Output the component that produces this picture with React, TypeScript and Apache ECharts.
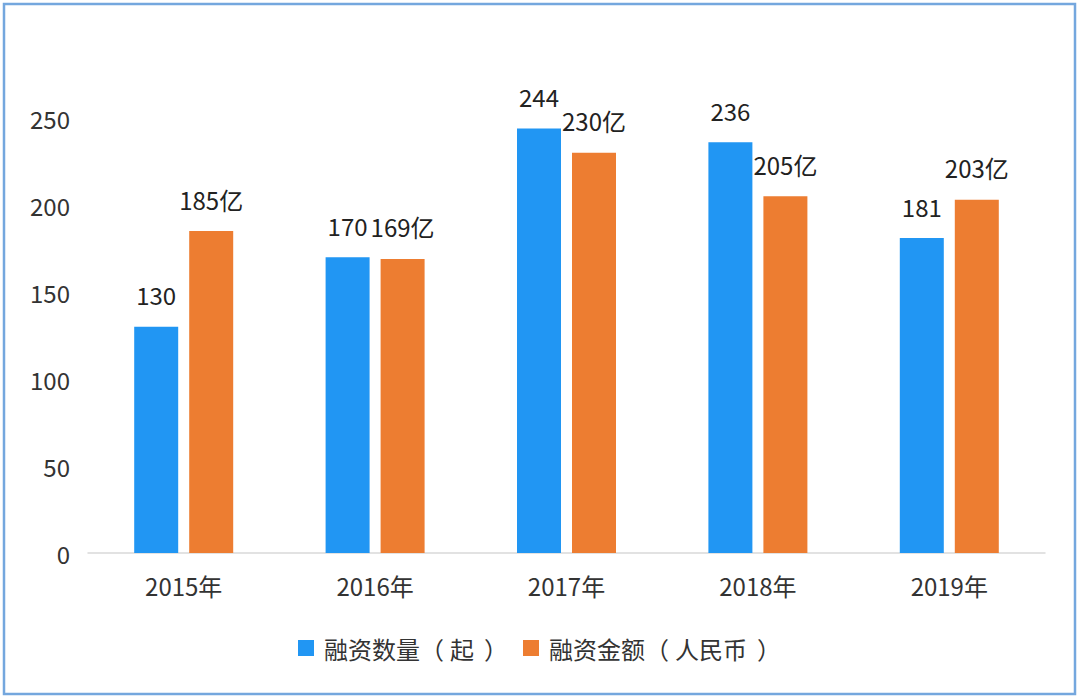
import React, { useEffect, useRef } from "react";
import * as echarts from "echarts";

const categories = ["2015年", "2016年", "2017年", "2018年", "2019年"];
const countValues = [130, 170, 244, 236, 181];
const amountValues = [185, 169, 230, 205, 203];
const seriesNames = ["融资数量（起）", "融资金额（人民币）"];

const FONT = "'Noto Sans CJK SC', 'Noto Sans', sans-serif";

const baseText = { fontSize: 24, color: "#333", fontFamily: FONT };

function legendFormatter(name: string): string {
  const m = name.match(/^(.*)（(.*)）$/);
  if (!m) return `{t|${name}}`;
  return `{t|${m[1]}}{o|（}{t|${m[2]}}{c|）}`;
}

export default function App() {
  const ref = useRef<HTMLDivElement>(null);
  useEffect(() => {
    if (!ref.current) return;
    const chart = echarts.init(ref.current, null, { renderer: "svg" });
    chart.setOption({
      animation: false,
      backgroundColor: "#ffffff",
      textStyle: { fontFamily: FONT },
      graphic: [
        {
          type: "rect",
          shape: { x: 4, y: 4, width: 1071, height: 690 },
          style: { fill: "none", stroke: "#74A7DE", lineWidth: 2.5 },
          silent: true,
        },
      ],
      grid: { left: 88, right: 35, top: 118, bottom: 145 },
      legend: {
        bottom: 38,
        left: 298,
        padding: 0,
        itemWidth: 16,
        itemHeight: 16,
        itemGap: 15,
        icon: "rect",
        formatter: legendFormatter,
        textStyle: {
          ...baseText,
          padding: [0, 0, 0, 5],
          rich: {
            t: { ...baseText },
            o: { ...baseText, padding: [0, 6, 0, 0] },
            c: { ...baseText, padding: [0, 0, 0, 10] },
          },
        },
        data: seriesNames,
      },
      xAxis: {
        type: "category",
        data: categories,
        axisLine: { lineStyle: { color: "#D9D9D9", width: 1.5 } },
        axisTick: { show: false },
        axisLabel: { ...baseText, margin: 20 },
      },
      yAxis: {
        type: "value",
        min: 0,
        max: 250,
        interval: 50,
        splitLine: { show: false },
        axisLine: { show: false },
        axisTick: { show: false },
        axisLabel: { ...baseText, margin: 18 },
      },
      series: [
        {
          name: seriesNames[0],
          type: "bar",
          data: countValues,
          barWidth: 44,
          barGap: "25%",
          itemStyle: { color: "#2196F3" },
          label: {
            show: true,
            position: "top",
            distance: 20,
            fontSize: 24,
            color: "#222",
            fontFamily: FONT,
          },
        },
        {
          name: seriesNames[1],
          type: "bar",
          data: amountValues,
          barWidth: 44,
          barGap: "25%",
          itemStyle: { color: "#ED7D31" },
          label: {
            show: true,
            position: "top",
            distance: 20,
            fontSize: 24,
            color: "#222",
            fontFamily: FONT,
            formatter: "{c}亿",
          },
        },
      ],
    });
    return () => chart.dispose();
  }, []);
  return (
    <div style={{ position: "absolute", left: 0, top: 0, width: 1080, height: 698 }}>
      <div ref={ref} style={{ width: 1080, height: 698 }} />
    </div>
  );
}
